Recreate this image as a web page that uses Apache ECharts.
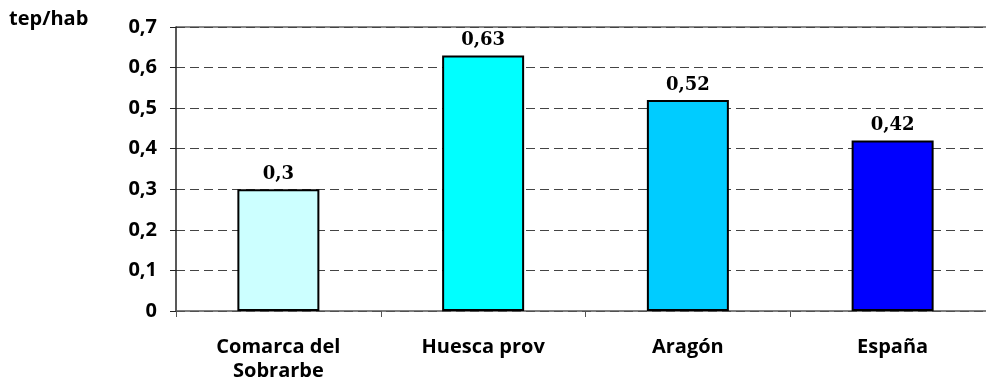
<!DOCTYPE html>
<html>
<head>
<meta charset="utf-8">
<script src="https://cdn.jsdelivr.net/npm/echarts@6/dist/echarts.min.js"></script>
<style>
  html, body { margin: 0; padding: 0; background: #fff; overflow: hidden; }
  /* the plot runs slightly past the right edge of the window */
  #chart { width: 1000px; height: 388px; }
</style>
</head>
<body>
<div id="chart"></div>
<script>
// Consumo por habitante (tep/hab)
const categories = ['Comarca del\nSobrarbe', 'Huesca prov', 'Aragón', 'España'];
const values = [0.3, 0.63, 0.52, 0.42];
const barColors = ['#CCFFFF', '#00FFFF', '#00CCFF', '#0000FF'];
const yTicks = [0, 0.1, 0.2, 0.3, 0.4, 0.5, 0.6, 0.7];

const FONT = '"Open Sans", Lato, sans-serif';
const VALUE_FONT = '"DejaVu Serif", serif';
const FS = 20;
const fmt = v => String(v).replace('.', ',');

const chart = echarts.init(document.getElementById('chart'), null, { renderer: 'canvas' });
chart.setOption({
  animation: false,
  backgroundColor: '#ffffff',
  grid: { left: 176, top: 27, right: 5, height: 284, containLabel: false },
  graphic: [{
    type: 'text', left: 9, top: 9,
    style: { text: 'tep/hab', font: 'bold ' + FS + 'px ' + FONT, fill: '#000' }
  }, {
    type: 'line', shape: { x1: 176, y1: 27, x2: 995, y2: 27 },
    style: { stroke: '#888', lineWidth: 2 }
  }],
  xAxis: {
    type: 'category',
    data: categories,
    axisLine: { lineStyle: { color: '#555', width: 1.5 } },
    axisTick: { show: true, length: 6, lineStyle: { color: '#555' }, alignWithLabel: false },
    axisLabel: {
      fontFamily: FONT, fontWeight: 'bold', fontSize: FS, color: '#000',
      margin: 24, lineHeight: 24, interval: 0
    }
  },
  yAxis: {
    type: 'value',
    min: 0, max: 0.7, interval: 0.1,
    axisLine: { show: true, lineStyle: { color: '#222', width: 1.5 } },
    axisTick: { show: true, length: 6, lineStyle: { color: '#222' } },
    axisLabel: {
      fontFamily: FONT, fontWeight: 'bold', fontSize: FS, color: '#000', margin: 19,
      formatter: v => {
        const t = yTicks.find(k => Math.abs(k - v) < 1e-9);
        return t === undefined ? '' : fmt(t);
      }
    },
    splitLine: {
      show: true,
      lineStyle: { color: '#444', type: [9, 5], width: 1 }
    }
  },
  series: [{
    type: 'bar',
    data: values.map((v, i) => ({
      value: v,
      itemStyle: { color: barColors[i], borderColor: '#000', borderWidth: 2 }
    })),
    barWidth: 82,
    label: {
      show: true, position: 'top', distance: 6,
      fontFamily: VALUE_FONT, fontWeight: 'bold', fontSize: 18, color: '#000',
      formatter: p => fmt(p.value)
    }
  }]
});
</script>
</body>
</html>
